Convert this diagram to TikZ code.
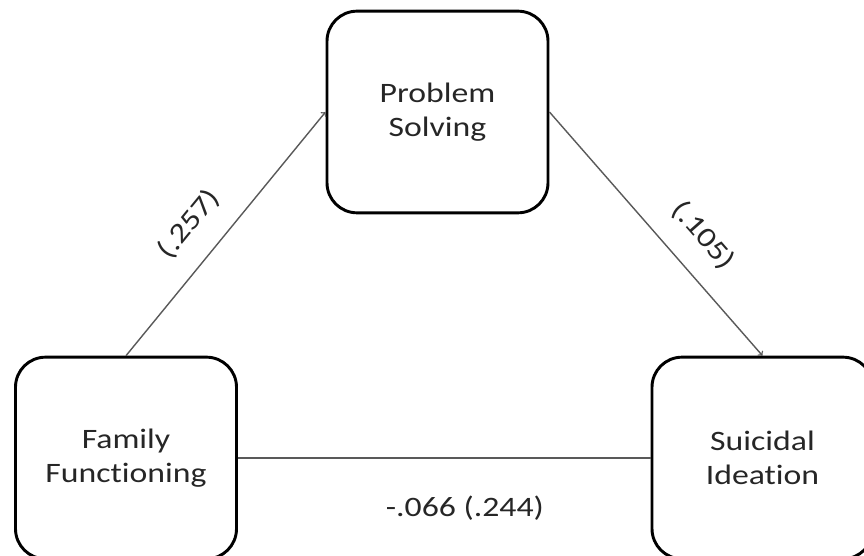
\documentclass[tikz,border=0pt]{standalone}
\usepackage{fontspec}
\setmainfont{Carlito}[FakeStretch=1.2, Ligatures=NoCommon]
\newcommand{\varfont}{\fontsize{24}{29}\selectfont}

\begin{document}
\begin{tikzpicture}[
  var/.style={draw, line width=2.5pt, rounded corners=0.9cm, minimum width=6.63cm,
    minimum height=6.05cm, align=center, text=black!85, font=\varfont},
  path/.style={draw=black!65, line width=1.2pt},
  coef/.style={text=black!85, font=\varfont, sloped}]
  \clip (0,0) rectangle (25.92,16.65);
  \node[var] (ps) at (13.125,13.29) {Problem\\Solving};
  \node[var] (ff) at (3.78,2.91) {Family\\Functioning};
  \node[var] (si) at (22.875,2.91) {Suicidal\\Ideation};
  \draw[path, ->] (ff.north) -- node[coef, pos=0.45, above=0.54cm] (a) {(.257)} (ps.west);
  \draw[path, ->] (ps.east) -- node[coef, pos=0.6, above=0.54cm] (b) {(.105)} (si.north);
  \draw[path] (ff.east) -- node[coef, pos=0.55, below=1.0cm] (c) {-.066 (.244)} (si.west);
\end{tikzpicture}
\end{document}
